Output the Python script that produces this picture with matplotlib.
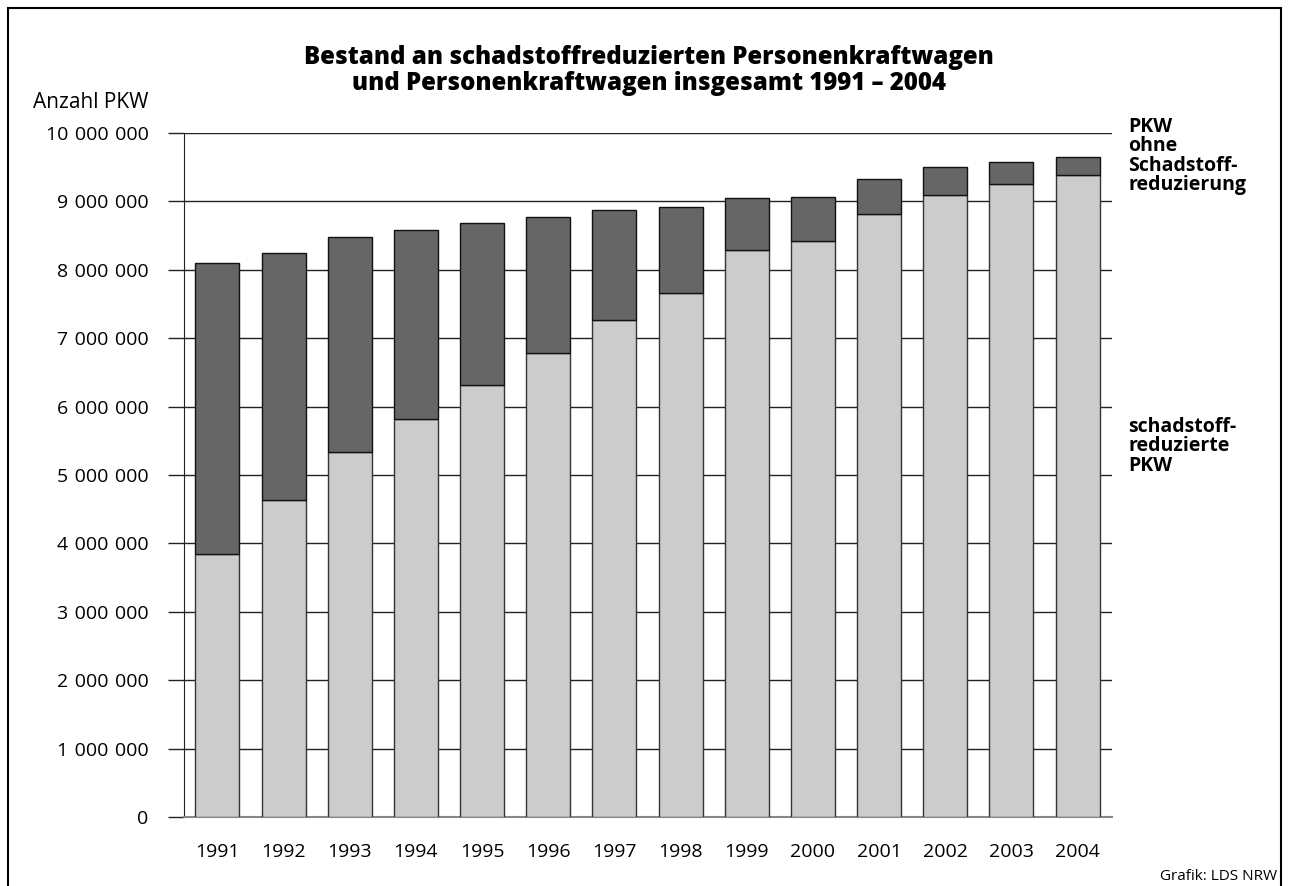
import matplotlib
matplotlib.use("Agg")
import matplotlib.pyplot as plt
from matplotlib.patches import Rectangle
from matplotlib.ticker import FuncFormatter

plt.rcParams['font.family'] = ['Open Sans', 'DejaVu Sans']

years = ["1991", "1992", "1993", "1994", "1995", "1996", "1997",
         "1998", "1999", "2000", "2001", "2002", "2003", "2004"]
reduziert = [3850000, 4640000, 5330000, 5820000, 6310000, 6790000, 7270000,
             7660000, 8290000, 8420000, 8810000, 9100000, 9250000, 9380000]
insgesamt = [8100000, 8240000, 8480000, 8580000, 8690000, 8770000, 8880000,
             8920000, 9050000, 9060000, 9330000, 9510000, 9570000, 9650000]
ohne = [t - r for t, r in zip(insgesamt, reduziert)]
yticks = [0, 1000000, 2000000, 3000000, 4000000, 5000000,
          6000000, 7000000, 8000000, 9000000, 10000000]

W, H = 1289, 886
fig = plt.figure(figsize=(W / 100, H / 100), dpi=100)
ax = fig.add_axes([184 / W, 1 - 817 / H, (1112 - 184) / W, (817 - 133) / H])

x = list(range(len(years)))
ax.bar(x, reduziert, width=0.665, color='#cccccc', edgecolor='#333333',
       linewidth=1.0, zorder=3)
ax.bar(x, ohne, bottom=reduziert, width=0.665, color='#666666',
       edgecolor='#111111', linewidth=1.0, zorder=3)

ax.set_xlim(-0.505, 13.52)
ax.set_ylim(0, 10000000)
ax.set_yticks(yticks)
ax.yaxis.set_major_formatter(FuncFormatter(lambda v, p: f"{int(v):,}".replace(",", "\u2004")))
ax.set_xticks(x)
ax.set_xticklabels(years)
ax.grid(axis='y', color='#222222', linewidth=1.0, zorder=1)
ax.tick_params(axis='y', length=11.5, width=1.0, pad=14, labelsize=14, color='#222222')
ax.tick_params(axis='x', length=0, pad=19, labelsize=14)
for s in ['top', 'right']:
    ax.spines[s].set_visible(False)
ax.spines['left'].set_color('#222222')
ax.spines['bottom'].set_color('#888888')
ax.spines['bottom'].set_linewidth(1.5)

fig.text(649 / W, 1 - 70.5 / H, "Bestand an schadstoffreduzierten Personenkraftwagen\nund Personenkraftwagen insgesamt 1991 – 2004",
         ha='center', va='center', fontsize=17.3, fontweight='heavy', linespacing=1.0)
fig.text(33 / W, 1 - 103 / H, "Anzahl PKW", ha='left', va='center', fontsize=15)
fig.text(1128 / W, 1 - 117 / H, "PKW\nohne\nSchadstoff-\nreduzierung",
         ha='left', va='top', fontsize=14, fontweight='bold', linespacing=0.96)
fig.text(1128 / W, 1 - 417 / H, "schadstoff-\nreduzierte\nPKW",
         ha='left', va='top', fontsize=14, fontweight='bold', linespacing=0.96)
fig.text(1277 / W, 1 - 877 / H, "Grafik: LDS NRW", ha='right', va='center', fontsize=11)

fig.patches.append(Rectangle((8 / W, -0.05), (1281 - 8) / W, 1.05 - 8 / H,
                             transform=fig.transFigure, fill=False,
                             edgecolor='black', linewidth=1.5))

fig.savefig("out.png", dpi=100, facecolor='white')
